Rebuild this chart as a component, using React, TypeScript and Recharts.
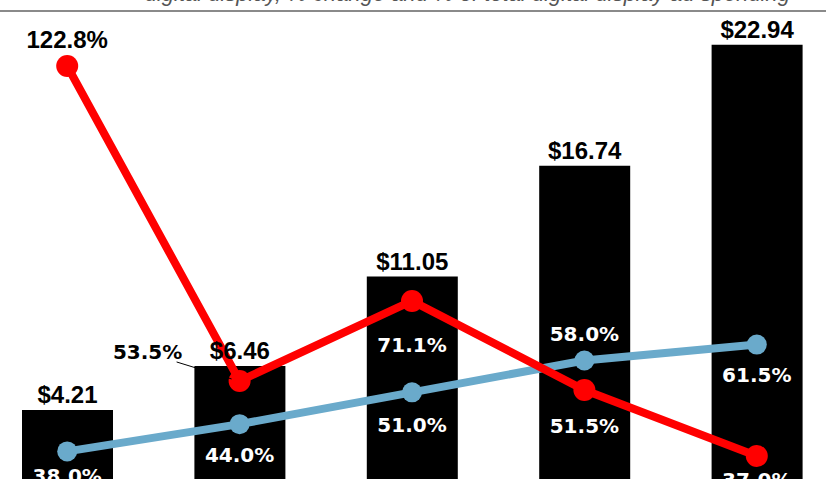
import { ComposedChart, Bar, Line, XAxis, YAxis, LabelList } from 'recharts';

// values
const years = ['2019', '2020', '2021', '2022', '2023'];
const spending = [4.21, 6.46, 11.05, 16.74, 22.94];
const pctChange = [122.8, 53.5, 71.1, 51.5, 37.0];
const pctOfTotal = [38.0, 44.0, 51.0, 58.0, 61.5];

const title = 'digital display, % change and % of total digital display ad spending';

const data = years.map((year, i) => ({
    year,
    spending: spending[i],
    change: pctChange[i],
    share: pctOfTotal[i],
}));

// label baseline offsets from each point (px)
const redDy = [-18, 0, 51, 43, 31];
const blueDy = [32, 38, 40, -20, 37];

const pctFont = { fontFamily: 'DejaVu Sans', fontWeight: 700, fontSize: 20 };
const barFont = { fontFamily: 'Liberation Sans', fontWeight: 700, fontSize: 24 };

const RedLabel = (props: any) => {
    const { x, y, value } = props;
    const index = props.index ?? pctChange.indexOf(value);
    const text = `${Number(value).toFixed(1)}%`;
    if (index === 0) {
        return <text x={x} y={y + redDy[0]} textAnchor="middle" fill="#000" {...barFont}>{text}</text>;
    }
    if (index === 1) {
        return (
            <g>
                <line x1={x - 63} y1={y - 19} x2={x - 8} y2={y - 2} stroke="#000" strokeWidth={1} />
                <text x={x - 92} y={y - 22} textAnchor="middle" fill="#000" {...pctFont}>{text}</text>
            </g>
        );
    }
    return <text x={x} y={y + redDy[index]} textAnchor="middle" fill="#fff" {...pctFont}>{text}</text>;
};

const BlueLabel = (props: any) => {
    const { x, y, value } = props;
    const index = props.index ?? pctOfTotal.indexOf(value);
    return (
        <text x={x} y={y + blueDy[index]} textAnchor="middle" fill="#fff" {...pctFont}>
            {`${Number(value).toFixed(1)}%`}
        </text>
    );
};

const App = () => {
    return (
        <div style={{ position: 'fixed', left: 0, top: 0, width: 828, height: 479, overflow: 'hidden', background: '#fff' }}>
            <svg width={828} height={14} style={{ position: 'absolute', left: 0, top: 0 }}>
                <text x={790} y={1} textAnchor="end" fontFamily="Liberation Sans" fontStyle="italic" fontSize={22} fill="#555">
                    {title}
                </text>
                <line x1={0} y1={11} x2={826} y2={11} stroke="#8a8a8a" strokeWidth={2} />
            </svg>
            <div style={{ position: 'absolute', left: 0, top: 0 }}>
                <ComposedChart
                    width={828}
                    height={492}
                    data={data}
                    margin={{ top: 40, right: -15, bottom: 0, left: -19 }}
                >
                    <XAxis dataKey="year" hide />
                    <YAxis yAxisId="bar" hide domain={[0, 23.19]} allowDataOverflow />
                    <YAxis yAxisId="pct" hide domain={[29.07, 128.52]} allowDataOverflow />
                    <Bar yAxisId="bar" dataKey="spending" fill="#000" barSize={91} isAnimationActive={false}>
                        <LabelList
                            dataKey="spending"
                            position="top"
                            offset={7}
                            formatter={(v: any) => `$${Number(v).toFixed(2)}`}
                            fill="#000"
                            {...barFont}
                        />
                    </Bar>
                    <Line
                        yAxisId="pct"
                        dataKey="share"
                        stroke="#6aaacb"
                        strokeWidth={8}
                        dot={{ r: 10, fill: '#6aaacb', stroke: 'none' }}
                        activeDot={false}
                        isAnimationActive={false}
                    >
                        <LabelList dataKey="share" content={BlueLabel} />
                    </Line>
                    <Line
                        yAxisId="pct"
                        dataKey="change"
                        stroke="#ff0000"
                        strokeWidth={8}
                        dot={{ r: 11, fill: '#ff0000', stroke: 'none' }}
                        activeDot={false}
                        isAnimationActive={false}
                    >
                        <LabelList dataKey="change" content={RedLabel} />
                    </Line>
                </ComposedChart>
            </div>
        </div>
    );
};

export default App;
